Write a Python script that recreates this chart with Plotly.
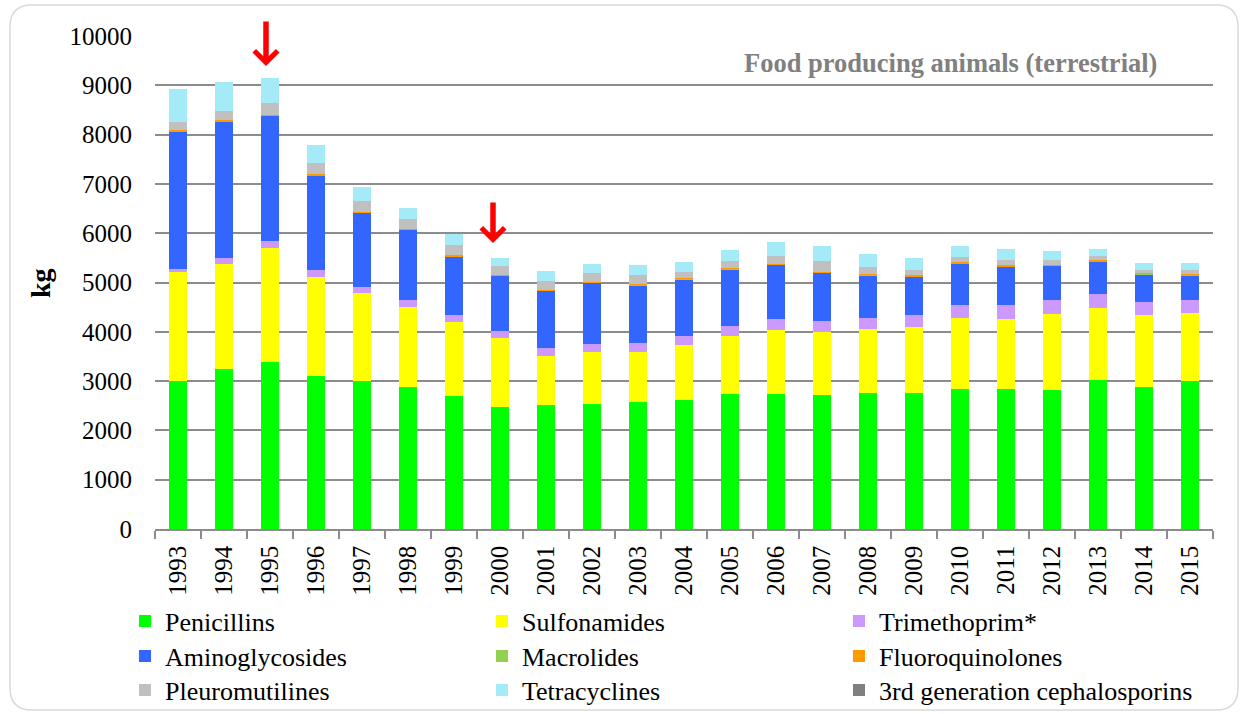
import plotly.graph_objects as go

years = [str(y) for y in range(1993, 2016)]

penicillins = [3000, 3245, 3395, 3100, 3000, 2880, 2700, 2480, 2520, 2535, 2585, 2625,
               2740, 2740, 2720, 2750, 2765, 2845, 2845, 2825, 3015, 2880, 3010]
sulfonamides = [2230, 2125, 2310, 2015, 1780, 1620, 1505, 1400, 990, 1055, 1010, 1100,
                1175, 1290, 1275, 1300, 1325, 1440, 1420, 1540, 1475, 1455, 1370]
trimethoprim = [40, 135, 140, 140, 130, 140, 130, 145, 160, 165, 170, 190,
                200, 230, 230, 230, 245, 260, 270, 290, 280, 270, 265]
aminoglycosides = [2790, 2760, 2535, 1915, 1505, 1425, 1195, 1115, 1170, 1235, 1180, 1155,
                   1155, 1095, 970, 870, 790, 840, 790, 680, 660, 565, 505]
macrolides = [10, 10, 5, 5, 5, 5, 5, 5, 5, 5, 5, 5,
              5, 5, 5, 5, 5, 5, 5, 5, 5, 5, 5]
fluoroquinolones = [20, 15, 20, 20, 15, 15, 15, 15, 10, 15, 20, 15,
                    20, 20, 20, 20, 20, 20, 25, 15, 15, 10, 20]
pleuromutilines = [175, 180, 240, 230, 220, 210, 215, 170, 175, 180, 185, 130,
                   145, 165, 210, 135, 110, 100, 105, 100, 85, 70, 70]
tetracyclines = [660, 590, 500, 360, 280, 220, 210, 170, 195, 190, 190, 195,
                 220, 285, 320, 260, 230, 240, 225, 175, 150, 140, 155]
cephalosporins = [0, 0, 0, 0, 0, 0, 0, 0, 0, 0, 0, 0,
                  0, 0, 0, 0, 0, 0, 0, 0, 0, 0, 0]

highlight_years = ["1995", "2000"]

series = [
    ("Penicillins", penicillins, "#00FF00", "legend"),
    ("Sulfonamides", sulfonamides, "#FFFF00", "legend"),
    ("Trimethoprim*", trimethoprim, "#CC99FF", "legend"),
    ("Aminoglycosides", aminoglycosides, "#3366FF", "legend2"),
    ("Macrolides", macrolides, "#92D050", "legend2"),
    ("Fluoroquinolones", fluoroquinolones, "#FF9900", "legend2"),
    ("Pleuromutilines", pleuromutilines, "#C0C0C0", "legend3"),
    ("Tetracyclines", tetracyclines, "#A5EAF7", "legend3"),
    ("3rd generation cephalosporins", cephalosporins, "#808080", "legend3"),
]

FONT = "Liberation Serif, Times New Roman, serif"
W, H = 1245, 714
L, R, T, B = 155, 1213, 36, 529  # plot area in pixels


def px(x):
    return (x - L) / (R - L)


def py(y):
    return (B - y) / (B - T)


fig = go.Figure()
for name, vals, color, lg in series:
    fig.add_trace(go.Bar(
        x=years, y=vals, name=name, legend=lg,
        marker=dict(color=color, line=dict(width=0)),
    ))

# rounded frame
x0, y0, x1, y1, r = 10, 5, 1238, 710, 22
path = (f"M {px(x0 + r)},{py(y0)} L {px(x1 - r)},{py(y0)} "
        f"Q {px(x1)},{py(y0)} {px(x1)},{py(y0 + r)} "
        f"L {px(x1)},{py(y1 - r)} Q {px(x1)},{py(y1)} {px(x1 - r)},{py(y1)} "
        f"L {px(x0 + r)},{py(y1)} Q {px(x0)},{py(y1)} {px(x0)},{py(y1 - r)} "
        f"L {px(x0)},{py(y0 + r)} Q {px(x0)},{py(y0)} {px(x0 + r)},{py(y0)} Z")
fig.add_shape(type="path", path=path, xref="paper", yref="paper",
              line=dict(color="#D9D9D9", width=1.5), layer="below")

legend_common = dict(
    orientation="h", yanchor="middle", xanchor="left",
    font=dict(family=FONT, size=26, color="black"),
    bgcolor="rgba(0,0,0,0)", borderwidth=0, traceorder="normal",
    entrywidth=312, entrywidthmode="pixels",
)
lx = px(125)

fig.update_layout(
    width=W, height=H,
    margin=dict(l=L, r=W - R, t=T, b=H - B, pad=0, autoexpand=False),
    paper_bgcolor="white", plot_bgcolor="white",
    barmode="stack", bargap=0.59,
    font=dict(family=FONT, size=25, color="black"),
    showlegend=True,
    legend=dict(x=lx, y=py(621), **legend_common),
    legend2=dict(x=lx, y=py(656), **legend_common),
    legend3=dict(x=lx, y=py(690), **legend_common),
    xaxis=dict(
        type="category", tickangle=-90, showgrid=False,
        showline=True, linecolor="#8C8C8C", linewidth=1.5,
        ticks="outside", tickson="boundaries", ticklen=8,
        tickcolor="#8C8C8C", tickwidth=1.5, ticklabelstandoff=5,
        tickfont=dict(family=FONT, size=25, color="black"),
    ),
    yaxis=dict(
        range=[0, 10000], dtick=1000, tick0=0, tickformat="d",
        showgrid=True, gridcolor="#8C8C8C", gridwidth=1.8,
        zeroline=False, showline=False, ticks="",
        ticklabelstandoff=22,
        tickfont=dict(family=FONT, size=25, color="black"),
    ),
    annotations=[
        dict(text="<b>kg</b>", x=px(40), y=py(283), xref="paper", yref="paper",
             xanchor="center", yanchor="middle",
             textangle=-90, showarrow=False,
             font=dict(family=FONT, size=28, color="black")),
        dict(text="<b>Food producing animals (terrestrial)</b>",
             x=px(950), y=py(63), xref="paper", yref="paper",
             xanchor="center", yanchor="middle", showarrow=False,
             font=dict(family=FONT, size=26.5, color="#808080")),
        dict(text="", x=years.index(highlight_years[0]), y=9390, xref="x", yref="y",
             xshift=-4, showarrow=True, arrowhead=4, arrowwidth=5.5, arrowsize=0.82,
             arrowcolor="#FF0000", ax=0, ay=-46, standoff=0),
        dict(text="", x=years.index(highlight_years[1]), y=5800, xref="x", yref="y",
             xshift=-7, showarrow=True, arrowhead=4, arrowwidth=5.5, arrowsize=0.82,
             arrowcolor="#FF0000", ax=0, ay=-42, standoff=0),
    ],
)

fig.write_html(
    "out.html",
    config={"displayModeBar": False},
    post_script="document.body.style.margin='0';document.body.style.overflow='hidden';",
)
